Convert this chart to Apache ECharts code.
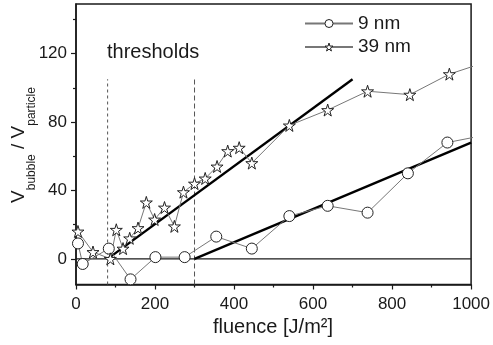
<!DOCTYPE html>
<html>
<head>
<meta charset="utf-8">
<script src="https://cdn.jsdelivr.net/npm/echarts@6/dist/echarts.min.js"></script>
<style>
  html, body { margin: 0; padding: 0; background: #fff; }
  #chart { width: 493px; height: 345px; }
</style>
</head>
<body>
<div id="chart"></div>
<script>
// Bubble volume relative to particle volume vs. laser fluence
const fluence9 = [5, 17, 83, 138, 201, 275, 355, 445, 540, 637, 738, 840, 940, 1050];
const ratio9   = [9, -3, 6, -12, 1, 1, 13, 6, 25, 31, 27, 50, 68, 73];

const fluence39 = [5, 43, 87, 102, 119, 136, 157, 178, 199, 224, 249, 272, 300, 327, 357, 384, 413, 445, 540, 637, 738, 845, 945, 1050];
const ratio39   = [16, 4, 0, 17, 6, 12, 18, 33, 23, 30, 19, 39, 44, 47, 54, 63, 65, 56, 78, 87, 98, 96, 108, 116];

// Linear fits, each starting at its threshold fluence
const fit9  = [[300, 0], [1000, 68]];
const fit39 = [[80, 0], [700, 105]];

// Threshold fluences and the height of the dashed markers
const thresholds = [80, 300];
const thresholdTop = 105;

const xTicks = [0, 200, 400, 600, 800, 1000];
const yTicks = [0, 40, 80, 120];
const yMinorTicks = [20, 60, 100, 140];

const Y_MIN = -15, Y_MAX = 149;

const starPath = 'path://M50,0 L61,35 L98,35 L68,57 L79,91 L50,70 L21,91 L32,57 L2,35 L39,35 Z';
const FONT = 'Liberation Sans, Arial, sans-serif';
const INK = '#1a1a1a';
const hollow = { color: '#fff', borderColor: '#222', borderWidth: 1 };

const pairs = (xs, ys) => xs.map((x, i) => [x, ys[i]]);

const chart = echarts.init(document.getElementById('chart'), null, { renderer: 'canvas' });

const thresholdSeries = thresholds.map((t, i) => ({
  type: 'line',
  name: 'threshold' + i,
  data: [[t, Y_MIN], [t, thresholdTop]],
  symbol: 'none',
  silent: true,
  lineStyle: { color: '#555', width: 1, type: i === 0 ? [3, 3] : [5, 3] },
  z: 1
}));

const option = {
  animation: false,
  backgroundColor: '#fff',
  textStyle: { fontFamily: FONT, color: INK },
  grid: {
    left: 76, right: 20.5, top: 4, bottom: 60.5,
    show: true, borderColor: INK, borderWidth: 1.5, backgroundColor: 'transparent'
  },
  legend: {
    data: [
      { name: '9 nm', itemStyle: hollow },
      { name: '39 nm', itemStyle: hollow }
    ],
    orient: 'vertical',
    left: 299, top: 9,
    itemWidth: 48, itemHeight: 10, itemGap: 4.5,
    textStyle: { fontSize: 19, color: INK, fontFamily: FONT }
  },
  xAxis: {
    type: 'value',
    min: 0, max: 1000, interval: 200,
    splitLine: { show: false },
    axisLine: { onZero: false, lineStyle: { color: INK, width: 1.5 } },
    axisTick: { show: true, length: 5, lineStyle: { color: INK, width: 1.2 } },
    minorTick: { show: true, splitNumber: 2, length: 3, lineStyle: { color: INK, width: 1.2 } },
    axisLabel: { fontSize: 17, color: INK, margin: 11, fontFamily: FONT,
      customValues: xTicks, formatter: v => String(v) }
  },
  yAxis: [
    {
      type: 'value',
      min: Y_MIN, max: Y_MAX,
      splitLine: { show: false },
      axisLine: { onZero: false, lineStyle: { color: INK, width: 1.5 } },
      axisTick: { show: true, length: 5, customValues: yTicks, lineStyle: { color: INK, width: 1.2 } },
      axisLabel: { fontSize: 17, color: INK, margin: 9, fontFamily: FONT, customValues: yTicks }
    },
    {
      type: 'value',
      position: 'left',
      min: Y_MIN, max: Y_MAX,
      splitLine: { show: false },
      axisLine: { show: false },
      axisTick: { show: true, length: 3, customValues: yMinorTicks, lineStyle: { color: INK, width: 1.2 } },
      axisLabel: { show: false }
    }
  ],
  graphic: [
    {
      type: 'text',
      left: 107, top: 42,
      style: { text: 'thresholds', fontSize: 20, fill: INK, fontFamily: FONT }
    },
    {
      type: 'text',
      left: 213, top: 317,
      style: { text: 'fluence [J/m\u00B2]', fontSize: 20, fill: INK, fontFamily: FONT }
    },
    {
      type: 'text',
      x: 18.6, y: 145,
      rotation: Math.PI / 2,
      style: {
        text: '{v|V}{s|bubble}{v| / V}{s|particle}',
        align: 'center', verticalAlign: 'middle',
        fill: INK, fontFamily: FONT,
        rich: {
          v: { fontSize: 19, fill: INK, fontFamily: FONT },
          s: { fontSize: 12, fill: INK, fontFamily: FONT, padding: [26, 0, 0, 0] }
        }
      }
    }
  ],
  series: [
    ...thresholdSeries,
    {
      type: 'line',
      name: 'zero',
      data: [[0, 0], [1000, 0]],
      symbol: 'none',
      silent: true,
      lineStyle: { color: INK, width: 1.2 },
      z: 1
    },
    {
      type: 'line',
      name: 'fit9',
      data: fit9,
      symbol: 'none',
      silent: true,
      lineStyle: { color: '#000', width: 2.4 },
      z: 3
    },
    {
      type: 'line',
      name: 'fit39',
      data: fit39,
      symbol: 'none',
      silent: true,
      lineStyle: { color: '#000', width: 2.4 },
      z: 3
    },
    {
      type: 'line',
      name: '9 nm',
      data: pairs(fluence9, ratio9),
      symbol: 'circle',
      symbolSize: 11,
      clip: true,
      lineStyle: { color: '#777', width: 1 },
      itemStyle: hollow,
      z: 4
    },
    {
      type: 'line',
      name: '39 nm',
      data: pairs(fluence39, ratio39),
      symbol: starPath,
      symbolSize: 12,
      clip: true,
      lineStyle: { color: '#777', width: 1 },
      itemStyle: hollow,
      z: 4
    }
  ]
};

chart.setOption(option);
</script>
</body>
</html>
